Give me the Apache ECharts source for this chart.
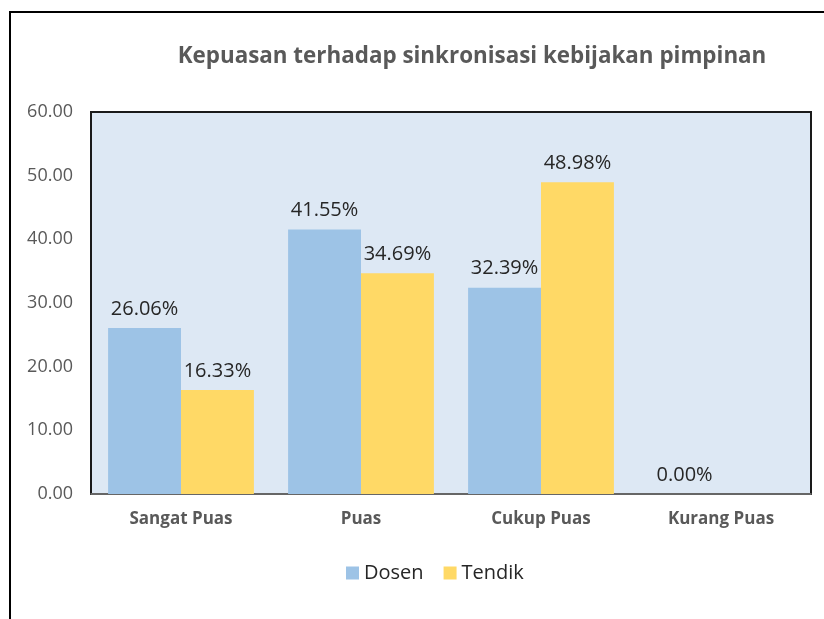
<!DOCTYPE html>
<html>
<head>
<meta charset="utf-8">
<script src="https://cdn.jsdelivr.net/npm/echarts@6/dist/echarts.min.js"></script>
<style>
  html, body { margin: 0; padding: 0; background: #fff; }
  #chart { width: 824px; height: 619px; }
</style>
</head>
<body>
<div id="chart"></div>
<script>
const categories = ['Sangat Puas', 'Puas', 'Cukup Puas', 'Kurang Puas'];
const dosenValues = [26.06, 41.55, 32.39, 0.00];
const tendikValues = [16.33, 34.69, 48.98, null];
const yTicks = { min: 0, max: 60, interval: 10 };

const font = '"Open Sans", Lato, sans-serif';
const chart = echarts.init(document.getElementById('chart'), null, { renderer: 'canvas' });

const labelStyle = {
  show: true,
  position: 'top',
  distance: 9,
  color: '#262626',
  fontSize: 20,
  fontFamily: font,
  formatter: p => p.value == null ? '' : p.value.toFixed(2) + '%'
};

chart.setOption({
  backgroundColor: '#fff',
  animation: false,
  graphic: [{
    type: 'rect',
    shape: { x: 10, y: 12, width: 840, height: 640 },
    style: { fill: 'none', stroke: '#000', lineWidth: 2 },
    z: 100
  }],
  title: {
    text: 'Kepuasan terhadap sinkronisasi kebijakan pimpinan',
    left: 467,
    textAlign: 'center',
    top: 41,
    textStyle: { color: '#595959', fontSize: 22.4, fontWeight: 'bold', fontFamily: font }
  },
  legend: {
    data: ['Dosen', 'Tendik'],
    bottom: 31,
    left: 341,
    itemWidth: 13,
    itemHeight: 13,
    itemGap: 20,
    icon: 'rect',
    textStyle: { color: '#262626', fontSize: 20, fontFamily: font }
  },
  grid: {
    left: 91,
    right: 13,
    top: 112,
    bottom: 125,
    show: true,
    backgroundColor: '#dde8f4',
    borderColor: '#1a1a1a',
    borderWidth: 2
  },
  xAxis: {
    type: 'category',
    data: categories,
    axisLine: { show: true, lineStyle: { color: '#808080', width: 1.5 } },
    axisTick: { show: false },
    axisLabel: { color: '#595959', fontSize: 17, fontWeight: 'bold', fontFamily: font, margin: 17 }
  },
  yAxis: {
    type: 'value',
    min: yTicks.min,
    max: yTicks.max,
    interval: yTicks.interval,
    axisLine: { show: false },
    axisTick: { show: false },
    splitLine: { show: false },
    axisLabel: {
      color: '#595959', fontSize: 18, fontFamily: font, margin: 18,
      formatter: v => v.toFixed(2)
    }
  },
  series: [
    {
      name: 'Dosen',
      type: 'bar',
      data: dosenValues,
      barGap: '0%',
      barCategoryGap: '19%',
      itemStyle: { color: '#9dc3e6' },
      label: labelStyle
    },
    {
      name: 'Tendik',
      type: 'bar',
      data: tendikValues,
      itemStyle: { color: '#ffd966' },
      label: labelStyle
    }
  ]
});
</script>
</body>
</html>
